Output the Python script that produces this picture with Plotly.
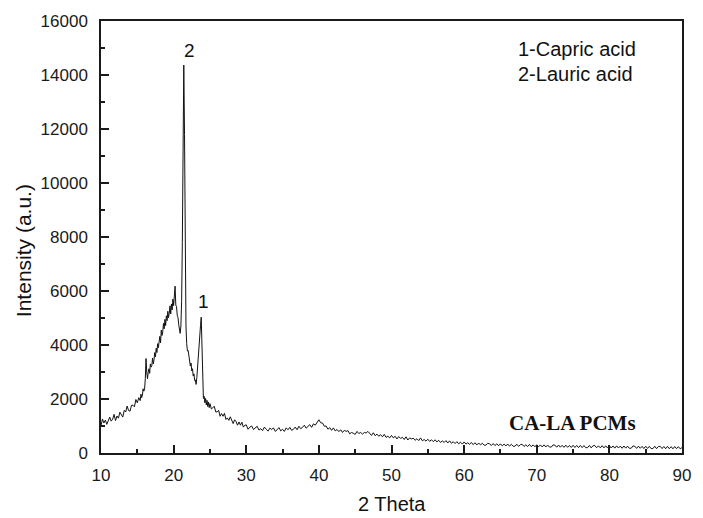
import numpy as np
import plotly.graph_objects as go

# XRD scan of the CA-LA PCM, stored as segments: (start 2θ, step, intensities)
seg1_start, seg1_step = 10.0, 0.2
seg1_int = [1010, 1260, 1110, 1220, 1060, 1230, 1330, 1180, 1250, 1430,
            1200, 1370, 1290, 1510, 1440, 1330, 1580, 1520, 1740, 1570,
            1550, 1770, 1770, 1710, 1980, 1860, 2050, 1940]

seg2_start, seg2_step = 15.5, 0.1
seg2_int = [2180, 2050, 2140, 2380, 2290, 2360, 2750, 3500, 3000, 2750,
            2980, 3120, 2950, 3300, 3180, 3240, 3520, 3300, 3450, 3720,
            3560, 3880, 3720, 4050, 3900, 4180, 4320, 4080, 4550, 4350,
            4480, 4800, 4600, 4950, 4720, 5080, 4900, 5250, 5010, 5180,
            5450, 5150, 5520, 5300, 5700, 5460, 5950, 6180, 5480, 5420,
            5100, 5020, 4760, 4600, 4430, 4700, 5600, 7800, 11200, 14370,
            11800, 7600, 4700, 4050, 3780, 3800, 3520, 3500, 3220, 3330,
            3040, 3120, 2850, 2930, 2680, 2700, 2540, 2800, 3250, 3780,
            4150, 4450, 4720, 5030, 3600, 2350, 2020, 2100, 1860, 2020,
            1780, 1950, 1720, 1890, 1680]

seg3_start, seg3_step = 25.0, 0.2
seg3_int = [1830, 1630, 1680, 1730, 1520, 1520, 1580, 1360, 1460, 1360,
            1470, 1240, 1300, 1210, 1340, 1190, 1090, 1230, 1160, 1030,
            1150, 1030, 1140, 960, 1030]

seg4_start, seg4_step = 30.0, 0.25
seg4_int = [1040, 880, 960, 1000, 870, 940, 990, 850, 900, 830, 960, 880,
            810, 920, 870, 930, 800, 860, 940, 820, 880, 800, 930, 860,
            950, 840, 880, 960, 860, 990, 900, 950, 1030, 920, 980, 1050,
            950, 1080, 1030, 1110, 1230, 1120, 1110, 990, 1000, 880, 940, 840,
            930, 820, 870, 790, 860, 760, 840, 800, 830, 710, 760, 730,
            690, 800, 720, 760, 700, 760, 740, 800, 730, 650, 750, 640,
            700, 620, 680, 600, 690, 580, 620, 560, 650, 560, 620, 520,
            610, 540, 580, 500, 600, 480, 560, 520, 550, 470, 530, 460,
            560, 450, 500, 440, 510, 430, 490, 420, 490, 410, 470, 390,
            450, 390, 460, 370, 450, 360, 420, 350, 420, 340, 400, 330,
            410, 330, 380, 320, 390, 310, 380, 300, 370, 300, 360, 290,
            290, 360, 340, 280, 350, 275, 340, 270, 340, 265, 330, 260,
            330, 255, 320, 250, 250, 325, 245, 310, 320, 240, 305, 240,
            315, 235, 300, 230, 305, 230, 300, 225, 300, 225, 295, 220,
            220, 300, 290, 215, 295, 215, 285, 210, 290, 210, 280, 205,
            285, 205, 280, 200, 280, 200, 275, 195, 200, 280, 190, 270,
            275, 195, 265, 190, 270, 190, 265, 185, 270, 185, 260, 180,
            265, 185, 255, 175, 260, 180, 255, 175, 175, 260, 250, 170,
            255, 175, 245, 165, 250, 170, 245, 165, 165, 250, 160, 240,
            245, 165, 240, 160, 245, 160, 235, 155, 240, 160, 235, 155,
            200]

segments = [(seg1_start, seg1_step, seg1_int), (seg2_start, seg2_step, seg2_int),
            (seg3_start, seg3_step, seg3_int), (seg4_start, seg4_step, seg4_int)]

two_theta, intensity = [], []
for start, step, vals in segments:
    two_theta.extend(start + step * np.arange(len(vals)))
    intensity.extend(vals)

# peak labels and legend text
peak_labels = ["2", "1"]
peak_label_x = [22.2, 24.17]
peak_label_y = [14900, 5600]
legend_lines = ["1-Capric acid", "2-Lauric acid"]
legend_y = [14970, 14040]
sample_name = "CA-LA PCMs"

fig = go.Figure()
fig.add_trace(go.Scatter(x=two_theta, y=intensity, mode="lines",
                         line=dict(color="#111111", width=1), showlegend=False))

ann = []
for t, x, y in zip(peak_labels, peak_label_x, peak_label_y):
    ann.append(dict(x=x, y=y, text=t, showarrow=False, xanchor="center", yanchor="middle",
                    font=dict(family="Arial, Liberation Sans", size=19, color="#111111")))
for t, y in zip(legend_lines, legend_y):
    ann.append(dict(x=67.2, y=y, text=t, showarrow=False, xanchor="left", yanchor="middle",
                    font=dict(family="Arial, Liberation Sans", size=20, color="#111111")))
ann.append(dict(x=65.85, y=1110, text="<b>" + sample_name + "</b>", showarrow=False,
                xanchor="left", yanchor="middle",
                font=dict(family="Liberation Serif, Times New Roman", size=21, color="#111111")))
ann.append(dict(x=0.5, y=-0.1175, xref="paper", yref="paper", text="2 Theta", showarrow=False,
                xanchor="center", yanchor="middle",
                font=dict(family="Arial, Liberation Sans", size=20, color="#111111")))
ann.append(dict(x=-0.1322, y=0.4677, xref="paper", yref="paper", text="Intensity (a.u.)",
                showarrow=False, textangle=-90, xanchor="center", yanchor="middle",
                font=dict(family="Arial, Liberation Sans", size=21, color="#111111")))

axis_common = dict(showgrid=False, zeroline=False, showline=True, linecolor="#1a1a1a",
                   linewidth=1.5, mirror=True, ticks="inside", tickcolor="#1a1a1a",
                   tickwidth=1.5, ticklen=8, tickformat="d",
                   tickfont=dict(family="Arial, Liberation Sans", size=17, color="#1a1a1a"))

fig.update_layout(
    width=703, height=518,
    margin=dict(l=101, r=12, t=19, b=65),
    paper_bgcolor="white", plot_bgcolor="white",
    xaxis=dict(range=[10, 90], dtick=10, tick0=10,
               minor=dict(dtick=5, ticks="inside", ticklen=4, tickcolor="#1a1a1a", tickwidth=1.5),
               ticklabelstandoff=6, **axis_common),
    yaxis=dict(range=[0, 16000], dtick=2000, tick0=0,
               minor=dict(dtick=1000, ticks="inside", ticklen=4, tickcolor="#1a1a1a", tickwidth=1.5),
               ticklabelstandoff=8, **axis_common),
    annotations=ann,
)

fig.write_html("out.html")
